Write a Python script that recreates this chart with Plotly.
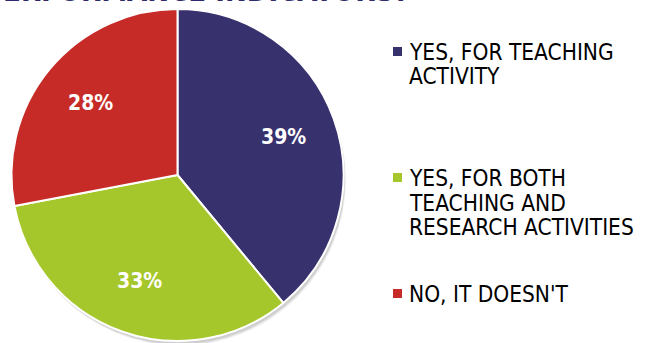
import math
import plotly.graph_objects as go

# Survey answers and their shares (%)
categories = ["YES, FOR TEACHING ACTIVITY",
              "YES, FOR BOTH TEACHING AND RESEARCH ACTIVITIES",
              "NO, IT DOESN'T"]
legend_lines = [["YES, FOR TEACHING", "ACTIVITY"],
                ["YES, FOR BOTH", "TEACHING AND", "RESEARCH ACTIVITIES"],
                ["NO, IT DOESN'T"]]
shares = [39, 33, 28]
colors = ["#37316E", "#A6C72B", "#C62B27"]

W, H = 645, 343
cx, cy, r = 177.5, 175, 166  # pie centre / radius in pixels (from top-left)
label_radius = 0.68          # percentage labels sit at this fraction of r


def px(x):
    return x / W


def py(y):
    return 1 - y / H


fig = go.Figure()

fig.add_trace(go.Pie(
    labels=categories, values=shares, sort=False, direction="clockwise",
    rotation=0, showlegend=False,
    marker=dict(colors=colors, line=dict(color="white", width=2)),
    textinfo="none",
    domain=dict(x=[px(cx - r), px(cx + r)], y=[py(cy + r), py(cy - r)]),
))

shapes, annotations = [], []

# percentage labels at the middle angle of each slice
total = sum(shares)
cum = 0
for v in shares:
    mid = (cum + v / 2) / total * 2 * math.pi
    cum += v
    lx = cx + label_radius * r * math.sin(mid)
    ly = cy - label_radius * r * math.cos(mid)
    annotations.append(dict(
        text=f"<b>{v}%</b>", xref="paper", yref="paper", x=px(lx), y=py(ly),
        xanchor="center", yanchor="middle", showarrow=False,
        font=dict(family="DejaVu Sans Condensed", size=21, color="white"),
    ))

# soft drop shadow beneath the pie
for off, alpha in [(5, 0.05), (4, 0.07), (3, 0.08)]:
    shapes.append(dict(type="circle", xref="paper", yref="paper", layer="below",
                       x0=px(cx - r + off * 0.5), x1=px(cx + r + off * 0.5),
                       y0=py(cy + r + off), y1=py(cy - r + off),
                       fillcolor=f"rgba(0,0,0,{alpha})", line=dict(width=0)))

# hand-drawn legend on the right
legend_tops = [52, 178, 294]
line_h = 24.5
for lines, color, top in zip(legend_lines, colors, legend_tops):
    shapes.append(dict(type="rect", xref="paper", yref="paper",
                       x0=px(393), x1=px(402), y0=py(top + 4), y1=py(top - 5),
                       fillcolor=color, line=dict(width=0)))
    for i, t in enumerate(lines):
        annotations.append(dict(
            text=t, xref="paper", yref="paper", x=px(407), y=py(top + i * line_h),
            xanchor="left", yanchor="middle", showarrow=False,
            font=dict(family="DejaVu Sans Condensed", size=22.5, color="black"),
        ))

# slide heading, mostly above the visible area
annotations.append(dict(
    text="<b>PERFORMANCE INDICATORS?</b>", xref="paper", yref="paper",
    x=px(411), y=py(-9), xanchor="right", yanchor="middle", showarrow=False,
    font=dict(family="DejaVu Sans Condensed", size=29, color="#2E2A6B"),
))

fig.update_layout(
    width=W, height=H, margin=dict(l=0, r=0, t=0, b=0),
    paper_bgcolor="white", plot_bgcolor="white",
    shapes=shapes, annotations=annotations,
)

fig.write_html("out.html")
